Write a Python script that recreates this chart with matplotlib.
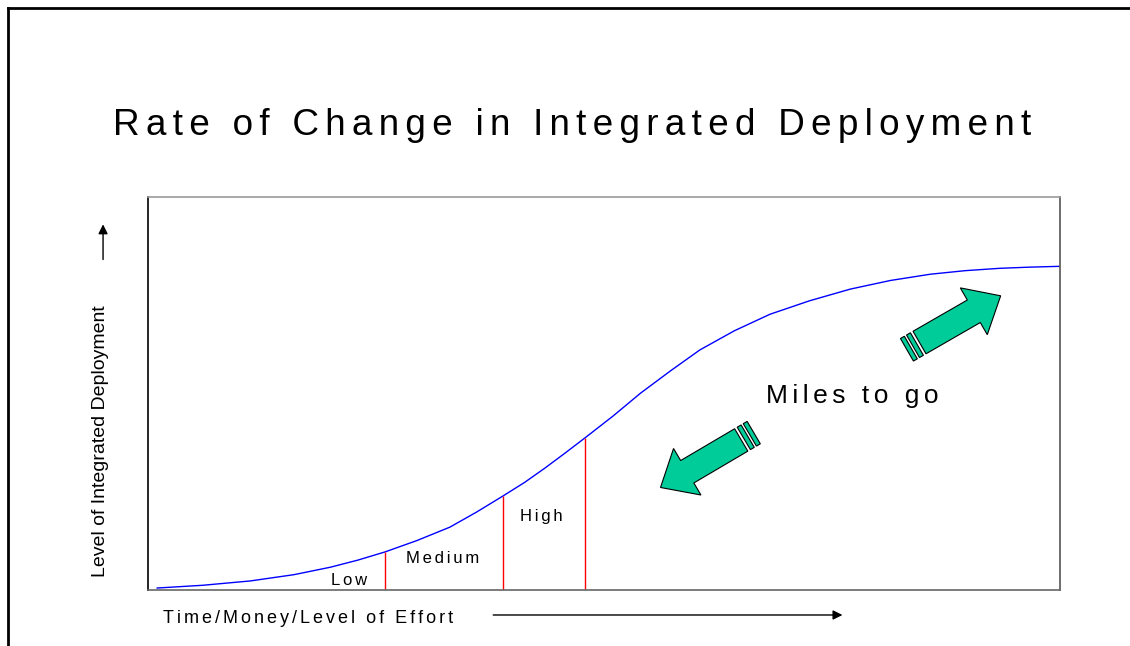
import numpy as np
import matplotlib
matplotlib.use("Agg")
from matplotlib import pyplot as plt
from matplotlib.patches import Polygon
from matplotlib.lines import Line2D

plt.rcParams['font.family'] = ['Liberation Sans', 'DejaVu Sans']

# curve (x: effort, y: deployment level, both 0-100)
curve_x = [1.0, 6.0, 11.2, 16.0, 20.0, 23.0, 26.0, 29.5, 33.1, 36.0, 38.9,
           41.3, 43.5, 45.7, 47.9, 51.0, 54.0, 57.3, 60.5, 64.3, 68.2,
           72.5, 77.0, 81.4, 85.8, 89.6, 93.4, 96.7, 99.9]
curve_y = [0.5, 1.2, 2.3, 3.9, 5.8, 7.6, 9.7, 12.6, 16.0, 19.8, 23.9,
           27.4, 31.0, 34.8, 38.7, 44.3, 50.1, 55.8, 61.1, 66.0, 70.2,
           73.6, 76.6, 78.8, 80.4, 81.3, 81.9, 82.2, 82.4]

# stage boundaries (x) and the curve height there
stage_x = [26.0, 38.9, 47.9]
stage_top = [9.7, 23.9, 38.7]

stage_labels = ["Low", "Medium", "High"]
stage_label_x = [22.1, 32.3, 43.1]
stage_label_y = [2.5, 7.9, 18.6]

# green arrows: (tail, tip) in data coords
arrows = [((84.6, 63.0), (93.5, 74.9)),
          ((65.05, 38.2), (56.2, 26.1))]

title = "Rate of Change in Integrated Deployment"
note = "Miles to go"
xlabel = "Time/Money/Level of Effort"
ylabel = "Level of Integrated Deployment"


def spaced(s, sep="\u200a\u200a"):
    return sep.join(s)


def arrow_poly(ax, tail, tip, shaft=26, head=54, head_len=31):
    # build the block arrow in pixels so it is not skewed by the axes aspect
    t = ax.transData.transform(tail)
    h = ax.transData.transform(tip)
    u = (h - t) / np.hypot(*(h - t))
    v = np.array([-u[1], u[0]])
    L = np.hypot(*(h - t))
    body = [t + v * shaft / 2, t + u * (L - head_len) + v * shaft / 2,
            t + u * (L - head_len) + v * head / 2, h,
            t + u * (L - head_len) - v * head / 2,
            t + u * (L - head_len) - v * shaft / 2, t - v * shaft / 2]
    stripes = []
    for off in (3, 10):
        a, b = off, off + 4.5
        stripes.append([t - u * a + v * shaft / 2, t - u * b + v * shaft / 2,
                        t - u * b - v * shaft / 2, t - u * a - v * shaft / 2])
    inv = ax.transData.inverted()
    return [inv.transform(np.array(body))] + [inv.transform(np.array(s)) for s in stripes]


fig = plt.figure(figsize=(11.3, 6.46), dpi=100)
ax = fig.add_axes([0.131, 0.0867, 0.807, 0.608])
ax.set_xlim(0, 100)
ax.set_ylim(0, 100)
ax.set_xticks([])
ax.set_yticks([])
ax.spines['left'].set_color('black')
ax.spines['top'].set_color('#999999')
ax.spines['right'].set_color('#555555')
ax.spines['bottom'].set_color('#666666')
for s in ax.spines.values():
    s.set_linewidth(1.2)

ax.plot(curve_x, curve_y, color="#0000ff", lw=1.0)
ax.vlines(stage_x, 0, stage_top, color="#ff0000", lw=1.0)
for lab, lx, ly in zip(stage_labels, stage_label_x, stage_label_y):
    ax.text(lx, ly, spaced(lab), ha="center", va="center", fontsize=12)

for tail, tip in arrows:
    for pts in arrow_poly(ax, tail, tip):
        ax.add_patch(Polygon(pts, closed=True, facecolor="#00cc99",
                             edgecolor="black", lw=0.8))

ax.text(77.2, 49.4, spaced(note), ha="center", va="center", fontsize=19)

fig.text(0.506, 0.806, spaced(title), ha="center", va="center", fontsize=26.6)
fig.text(0.0885, 0.317, ylabel, rotation=90, ha="center", va="center",
         fontsize=14)
fig.text(0.144, 0.043, spaced(xlabel), ha="left", va="center", fontsize=13)

ax.annotate("", xy=(0.0912, 0.657), xytext=(0.0912, 0.594),
            xycoords="figure fraction",
            arrowprops=dict(arrowstyle="-|>", color="black", lw=1.0,
                            mutation_scale=14))
ax.annotate("", xy=(0.748, 0.048), xytext=(0.434, 0.048),
            xycoords="figure fraction",
            arrowprops=dict(arrowstyle="-|>", color="black", lw=1.0,
                            mutation_scale=14))

# outer frame (left and top edges only)
fig.add_artist(Line2D([0.0075, 0.0075], [0.0, 0.9876], color="black", lw=2))
fig.add_artist(Line2D([0.0075, 1.0], [0.9876, 0.9876], color="black", lw=2))

fig.savefig("out.png", dpi=100)
